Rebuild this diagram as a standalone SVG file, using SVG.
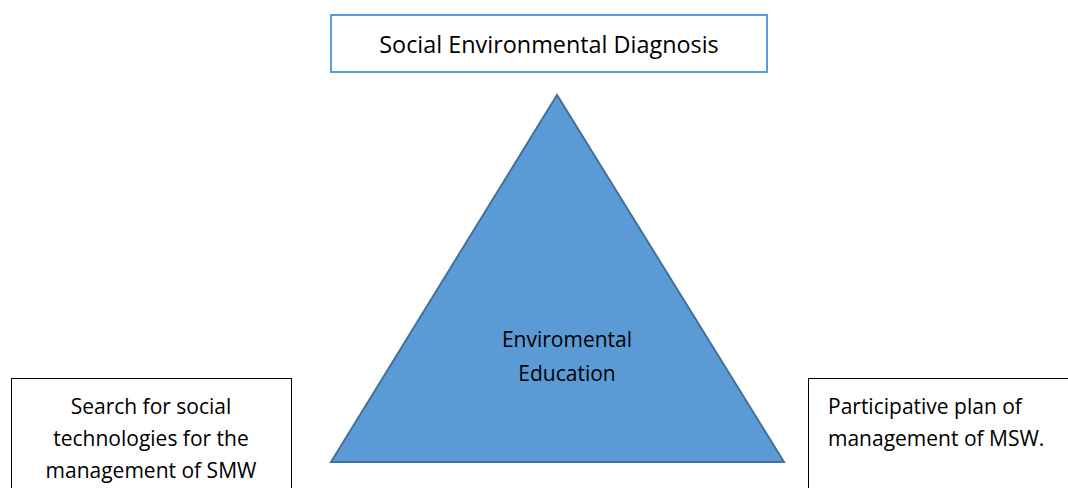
<svg xmlns="http://www.w3.org/2000/svg" width="1068" height="488" viewBox="0 0 1068 488">
<style>
.t{font-family:"Open Sans","Noto Sans",sans-serif;font-size:21px;fill:#000}
.big{font-size:23.4px}
.c{text-anchor:middle}
.box{fill:#fff;stroke:#000;stroke-width:1}
</style>
<rect width="1068" height="488" fill="#fff"/>
<g id="diagnosis">
<rect x="331" y="15" width="436" height="57" fill="#fff" stroke="#5b9bd5" stroke-width="2"/>
<text class="t big c" x="549" y="53">Social Environmental Diagnosis</text>
</g>
<g id="education">
<polygon points="557,95 331,462 784,462" fill="#5b9bd5" stroke="#41719c" stroke-width="2"/>
<text class="t c" x="567" y="347">Enviromental</text>
<text class="t c" x="567" y="381">Education</text>
</g>
<g id="search">
<rect class="box" x="11.5" y="378.5" width="280" height="120"/>
<text class="t c" x="151" y="414">Search for social</text>
<text class="t c" x="151" y="446">technologies for the</text>
<text class="t c" x="151" y="478">management of SMW</text>
</g>
<g id="plan">
<rect class="box" x="808.5" y="378.5" width="280" height="120"/>
<text class="t" x="828" y="414">Participative plan of</text>
<text class="t" x="828" y="446">management of MSW.</text>
</g>
<g id="connectors"></g>
</svg>
